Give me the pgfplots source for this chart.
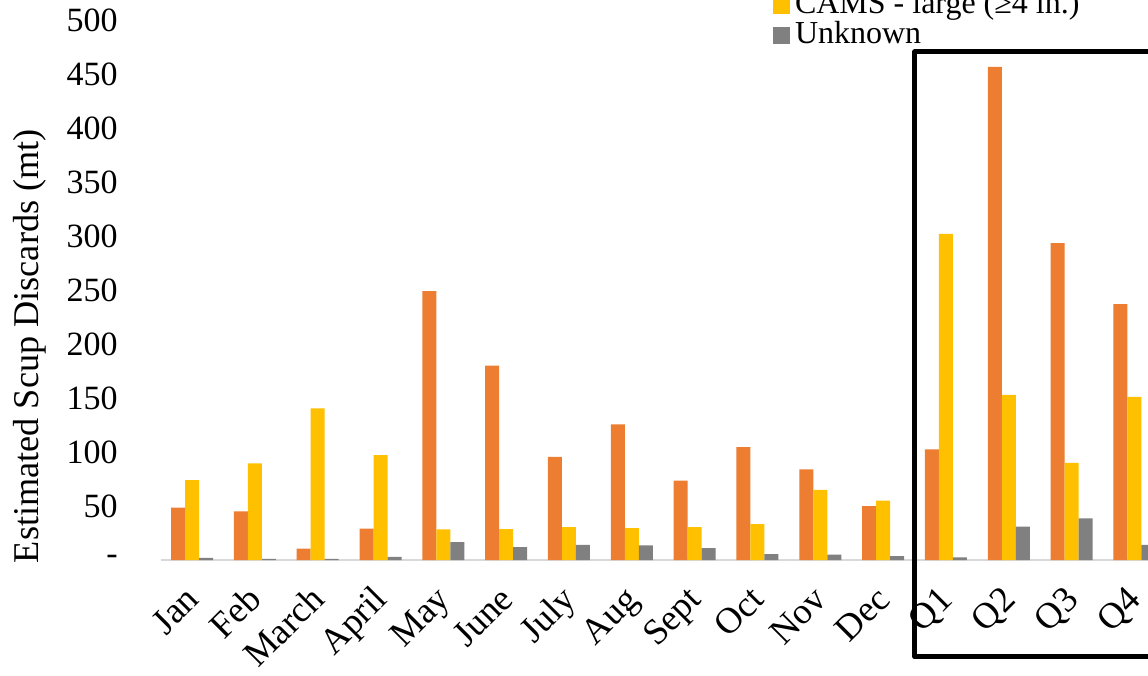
\documentclass[border=0pt]{standalone}
\usepackage{fontspec}
\setmainfont{Liberation Serif}
\usepackage{pgfplots}
\pgfplotsset{compat=1.18}
\usepackage{pgfplotstable}
\definecolor{corange}{HTML}{ED7D31}
\definecolor{cyellow}{HTML}{FFC000}
\definecolor{cgray}{HTML}{808080}
\definecolor{cbase}{HTML}{D9D9D9}

\pgfplotstableread{
x orange yellow gray
0 48.4 74 2
1 45 89.5 1
2 10.5 140.4 1
3 29 97 3
4 249 28.4 16.5
5 180 28.7 12
6 95.4 30.5 14
7 125.6 29.6 13.5
8 73.5 30.5 11
9 104.6 33.3 5.5
10 84 65 5
11 50 55 3.5
12 102.5 302 2.5
13 456.5 153 31
14 293.5 90 38.5
15 237 151 14
}\datatable

\begin{document}
\begin{tikzpicture}
\path[use as bounding box, clip] (-64.24pt,-46pt) rectangle (394.96pt,224pt);
\begin{axis}[
  scale only axis, width=402.1pt, height=216pt,
  xmin=-0.5, xmax=15.5, ymin=0, ymax=500,
  clip=false,
  ybar=0pt, bar width=5.6pt,
  axis x line*=bottom, axis y line*=left,
  x axis line style={draw=cbase, line width=0.8pt},
  y axis line style={draw=none},
  major tick length=0pt,
  tick style={draw=none},
  xtick={0,...,15},
  xticklabels={Jan,Feb,March,April,May,June,July,Aug,Sept,Oct,Nov,Dec,Q1,Q2,Q3,Q4},
  ytick={0,50,...,500},
  yticklabels={-,50,100,150,200,250,300,350,400,450,500},
  /pgf/number format/assume math mode=true,
  ticklabel style={font=\fontsize{13.6}{16}\selectfont},
  yticklabel style={anchor=east, inner sep=0pt, xshift=-17pt},
  xticklabel style={xshift=3.5pt, yshift=-16.5pt, rotate=45, anchor=base east, inner sep=0pt, font=\fontsize{14.6}{17}\selectfont},
  ylabel={Estimated Scup Discards (mt)},
  every axis y label/.style={at={(axis description cs:-0.1299,0.396)}, rotate=90, anchor=center, font=\fontsize{14.5}{17}\selectfont},
  legend cell align=left,
  legend image code/.code={\fill[#1] (0pt,-3.4pt) rectangle (6.8pt,3.4pt);},
  legend style={draw=none, fill=none, inner sep=0pt, outer sep=0pt,
    at={(axis description cs:0.6092,0.9435)}, anchor=south west,
    font=\fontsize{12.8}{14}\selectfont,
    row sep=0pt,
    nodes={inner xsep=2pt, inner ysep=1pt, text height=8pt, text depth=2pt}},
]
\addplot[fill=corange, draw=none] table[x=x, y=orange] {\datatable};
\addlegendentry{CAMS - small (<4 in.)}
\addplot[fill=cyellow, draw=none] table[x=x, y=yellow] {\datatable};
\addlegendentry{CAMS - large (≥4 in.)}
\addplot[fill=cgray, draw=none] table[x=x, y=gray] {\datatable};
\addlegendentry{Unknown}
\draw[line width=2pt, line join=round] (axis cs:16,470.4) -- (axis cs:11.507,470.4) -- (axis cs:11.507,-89.8) -- (axis cs:16,-89.8);
\end{axis}
\end{tikzpicture}
\end{document}
